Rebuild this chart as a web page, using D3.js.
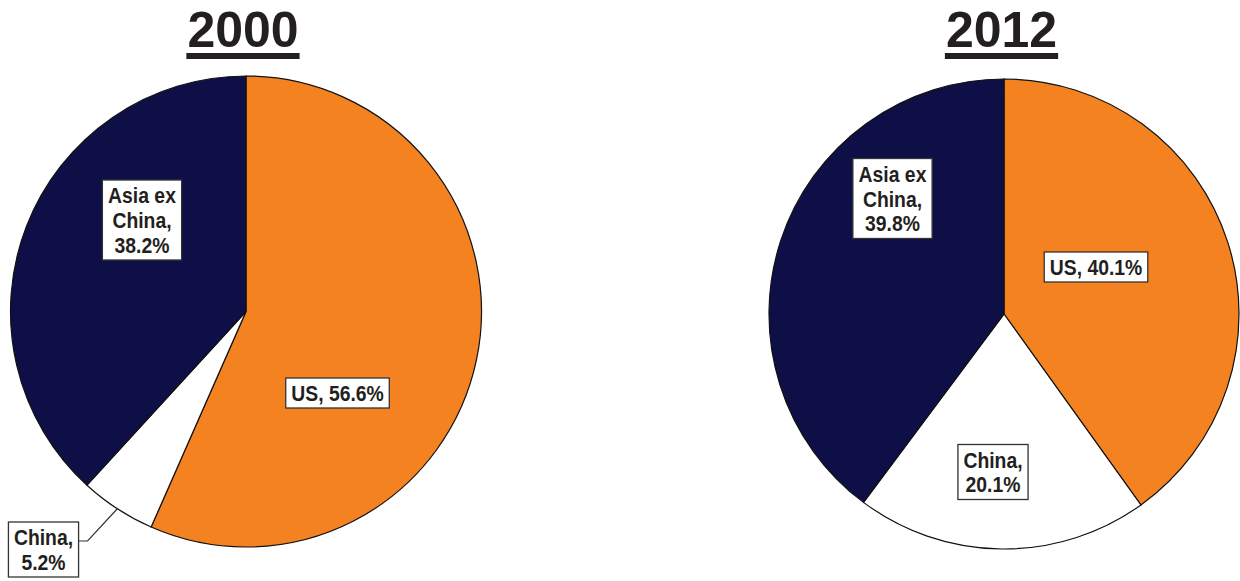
<!DOCTYPE html>
<meta charset="utf-8">
<head>
    <script src="https://cdn.jsdelivr.net/npm/d3@7"></script>
    <style>
        body { margin: 0; background: #ffffff; }
        text { font-family: "Liberation Sans", Arial, sans-serif; font-weight: bold; fill: #231f20; }
    </style>
</head>
<body>
    <svg width=1240 height=581></svg>
</body>
<script>
    // data
    let categories = ["US", "China", "Asia ex China"];
    let years = ["2000", "2012"];
    let share2000 = [56.6, 5.2, 38.2];
    let share2012 = [40.1, 20.1, 39.8];
    // how each label breaks into lines, {v} is the value
    let labelLines = [["US, {v}%"], ["China,", "{v}%"], ["Asia ex", "China,", "{v}%"]];

    let colors = ["#f58220", "#ffffff", "#0f0f47"];

    // layout of each pie and where its label boxes sit (relative to the pie centre)
    let layout = [
        { cx: 246, cy: 311.5, r: 235.5, titleX: 243,
          labels: [[91.5, 81.5], [-202.5, 238], [-104, -91.5]], leader: [false, true, false] },
        { cx: 1004, cy: 314, r: 235, titleX: 1001.5,
          labels: [[92, -47], [-11, 158], [-111.5, -115.5]], leader: [false, false, false] }
    ];

    let series = [share2000, share2012];
    let lineHeight = 25;
    let squeeze = 0.88;

    let svg = d3.select('svg');

    let pie = d3.pie().sort(null).value(function (d) { return d; });

    series.forEach(function (values, i) {
        let lay = layout[i];
        let arc = d3.arc().innerRadius(0).outerRadius(lay.r);
        let edge = d3.arc().innerRadius(lay.r).outerRadius(lay.r);

        // title with underline
        let title = svg.append("text")
            .attr("x", lay.titleX)
            .attr("y", 47)
            .attr("text-anchor", "middle")
            .attr("font-size", 50)
            .text(years[i]);
        let tb = title.node().getBBox();
        svg.append("rect")
            .attr("x", tb.x - 1)
            .attr("y", 53)
            .attr("width", tb.width + 2)
            .attr("height", 6)
            .attr("fill", "#231f20");

        let g = svg.append("g")
            .attr("transform", `translate(${lay.cx}, ${lay.cy})`);

        let arcs = pie(values);

        g.selectAll("path")
            .data(arcs)
            .enter()
            .append("path")
            .attr("d", arc)
            .attr("fill", function (d, k) { return colors[k]; })
            .attr("stroke", "#111111")
            .attr("stroke-width", 1.2);

        arcs.forEach(function (d, k) {
            let pos = lay.labels[k];
            let lines = labelLines[k].map(function (s) { return s.replace("{v}", values[k].toFixed(1)); });

            let lg = g.append("g").attr("transform", `translate(${pos[0]}, ${pos[1]})`);
            let box = lg.append("rect");
            let txt = lg.append("text")
                .attr("text-anchor", "middle")
                .attr("font-size", 22)
                .attr("transform", `scale(${squeeze}, 1)`);
            lines.forEach(function (s, n) {
                txt.append("tspan")
                    .attr("x", 0)
                    .attr("y", (n - (lines.length - 1) / 2) * lineHeight + 8)
                    .text(s);
            });
            let b = txt.node().getBBox();
            let w = b.width * squeeze + 11;
            let h = lines.length * lineHeight + 5;
            box.attr("x", -w / 2)
                .attr("y", -h / 2)
                .attr("width", w)
                .attr("height", h)
                .attr("fill", "#ffffff")
                .attr("stroke", "#333333")
                .attr("stroke-width", 1.3);

            if (lay.leader[k]) {
                let p = edge.centroid(d);
                let sx = pos[0] + w / 2;
                let sy = pos[1] - 8.5;
                g.append("path")
                    .attr("d", `M${sx},${sy} L${sx + 9},${sy} L${p[0]},${p[1]}`)
                    .attr("fill", "none")
                    .attr("stroke", "#333333")
                    .attr("stroke-width", 1.2);
            }
        });
    });
</script>
